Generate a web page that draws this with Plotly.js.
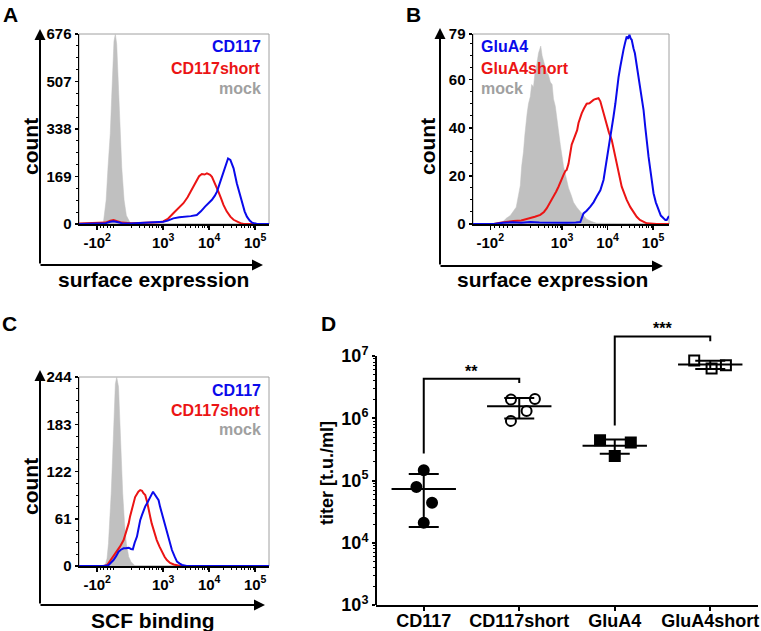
<!DOCTYPE html>
<html><head><meta charset="utf-8">
<script src="https://cdn.plot.ly/plotly-3.0.1.min.js"></script>
<style>html,body{margin:0;padding:0;background:#fff}</style>
</head><body><div id="chart" style="width:761px;height:631px"></div>
<script>
// ---------- Panel A (x in display decades of the biexponential axis) ----------
const mockA_x = [1.17,1.65,1.70,1.73,1.76,1.80,1.85,1.88,1.90,1.93,1.96,1.99,2.01,2.04,2.07,2.10,2.15,2.20,2.28,2.35,5.30];
const mockA_y = [0,0,5,40,85,200,323,450,560,650,676,640,560,440,323,200,85,30,5,0,0];
const cd117A_x = [1.17,1.5,1.75,1.85,1.92,2.0,2.1,2.3,2.5,2.7,2.9,3.0,3.1,3.22,3.35,3.5,3.6,3.73,3.82,3.91,3.98,4.06,4.12,4.17,4.22,4.28,4.35,4.41,4.46,4.53,4.60,4.66,4.71,4.77,4.82,4.88,4.93,5.04,5.30];
const cd117A_y = [0,1,3,8,10,7,3,2,3,4,5,8,12,20,24,26,28,32,45,62,72,86,100,115,140,169,205,233,228,198,145,110,74,45,26,12,5,0,0];
const cd117sA_x = [1.17,1.5,1.75,1.85,1.92,2.0,2.1,2.3,2.5,2.6,2.75,2.9,3.0,3.1,3.22,3.33,3.44,3.53,3.62,3.68,3.73,3.78,3.84,3.90,3.95,4.02,4.06,4.09,4.15,4.20,4.26,4.31,4.38,4.46,4.53,4.60,4.68,4.75,5.30];
const cd117sA_y = [2,3,5,12,14,10,5,3,4,3,5,6,9,18,38,55,74,95,121,140,157,170,178,176,180,175,168,157,138,115,90,68,45,26,15,8,3,0,0];

// ---------- Panel B ----------
const mockB_x = [1.04,1.56,1.70,1.78,1.86,1.93,1.99,2.04,2.08,2.11,2.15,2.18,2.20,2.23,2.26,2.30,2.33,2.37,2.41,2.44,2.48,2.51,2.53,2.56,2.59,2.63,2.66,2.70,2.74,2.78,2.81,2.85,2.88,2.92,2.96,3.00,3.03,3.08,3.14,3.20,3.25,3.32,3.40,3.48,3.54,3.65,3.76,5.35];
const mockB_y = [0,0.3,1,2.5,3.5,5.5,7,12,16,24,30,37,42,46,50,53,58,57,64,66,71,73,74,70,68,66,63,62,59,58,52,49,44,38,33,28,24,20,15,12,9,7,5,3,2,1,0.3,0];
const gluA4sB_x = [1.04,1.5,1.64,1.80,1.93,2.10,2.30,2.40,2.52,2.60,2.66,2.74,2.81,2.87,2.92,2.97,3.03,3.07,3.10,3.14,3.18,3.21,3.25,3.29,3.33,3.36,3.40,3.43,3.48,3.54,3.60,3.65,3.69,3.74,3.80,3.84,3.87,3.92,3.98,4.03,4.09,4.15,4.20,4.26,4.31,4.37,4.42,4.50,4.57,4.64,4.71,4.79,4.86,5.08,5.35];
const gluA4sB_y = [0,0,0.5,1,1.2,1.5,2.4,3,3.8,5,6.5,9,11.4,13.5,15.5,18,20.4,22,22.5,25,29.4,33,35,37,39,42,44.7,46,48,50,50.2,51,51.6,52,52.3,51,48.9,45,40.5,38,35,30,25.3,21,15.5,12.5,10,7,5.1,3,1.7,0.8,0.3,0,0];
const gluA4B_x = [1.04,1.5,1.7,1.9,2.1,2.3,2.5,2.7,2.9,3.1,3.3,3.4,3.47,3.54,3.62,3.69,3.76,3.84,3.91,3.96,4.02,4.07,4.13,4.17,4.20,4.24,4.28,4.31,4.35,4.38,4.42,4.45,4.48,4.51,4.53,4.57,4.60,4.64,4.68,4.73,4.79,4.83,4.86,4.90,4.93,4.97,5.01,5.06,5.12,5.17,5.23,5.27,5.30,5.35];
const gluA4B_y = [0,0,0.5,0.7,0.5,0.8,0.6,0.5,0.6,0.5,0.6,0.8,4.4,5.5,7.2,9,11.4,14,18.3,24,30.8,37,44.7,50,55.8,61,65.5,69,72.5,75,78,77,78.7,77,76.6,73,71,66,61.3,55,47.5,40,33.6,28,23.9,18,12.8,9,5.8,3.5,2.4,1.7,1.7,3.3];

// ---------- Panel C ----------
const mockC_x = [1.17,1.70,1.74,1.78,1.81,1.84,1.87,1.90,1.92,1.94,1.96,1.99,2.03,2.05,2.07,2.10,2.12,2.16,2.20,2.25,2.30,2.39,5.30];
const mockC_y = [0,0,1,10,29,60,94,140,167,205,235,244,231,200,167,125,94,55,29,12,5.6,0,0];
const cd117sC_x = [1.17,1.7,1.78,1.84,1.88,1.94,1.99,2.06,2.14,2.20,2.25,2.28,2.32,2.36,2.39,2.43,2.46,2.50,2.54,2.57,2.61,2.65,2.68,2.72,2.75,2.80,2.86,2.92,2.97,3.03,3.08,3.15,3.23,3.37,5.30];
const cd117sC_y = [0,0,1,6,10,14,18.5,25,33.5,44,55,64,74,82,89,93,96,98,97,94,91.5,83,72,63,55,44,33.5,25,18.5,12,7.7,4,2,0,0];
const cd117C_x = [1.17,1.7,1.81,1.87,1.92,1.98,2.03,2.08,2.14,2.19,2.25,2.30,2.34,2.38,2.43,2.47,2.50,2.54,2.57,2.61,2.65,2.68,2.72,2.75,2.78,2.80,2.83,2.86,2.90,2.93,2.97,3.00,3.04,3.08,3.12,3.16,3.19,3.25,3.30,3.36,3.41,3.51,5.30];
const cd117C_y = [0,0,1,4,7.7,13,18.5,21,22.8,23,23.6,22,21.5,30,38,50,59,66,72,77,81,85,89,93,96,94,91.5,90,85,77,68,60,51,42,33.5,27,20.6,12,5.6,3,1.3,0,0];

// ---------- Panel D ----------
const categories = ['CD117','CD117short','GluA4','GluA4short'];
const titerCD117 = [1.47e5, 7.9e4, 4.4e4, 2.1e4];
const jitterCD117 = [0, -0.077, 0.087, 0];
const titerCD117short = [2.0e6, 2.05e6, 1.31e6, 9.1e5];
const jitterCD117short = [-0.087, 0.164, 0.077, -0.087];
const titerGluA4 = [4.44e5, 4.08e5, 2.49e5];
const jitterGluA4 = [-0.154, 0.168, 0];
const titerGluA4short = [8.5e6, 6.3e6, 7.1e6];
const jitterGluA4short = [-0.168, 0.014, 0.164];
const titerMean = [7.3e4, 1.56e6, 3.64e5, 7.3e6];
const titerSD = [5.5e4, 5.7e5, 9.5e4, 1.1e6];
const bracket1_y = [2.71e5, 4.33e6, 4.33e6, 3.69e6];
const bracket2_y = [7.7e5, 2.07e7, 2.07e7, 1.74e7];
const sigLabels = ['**', '***'];

// ---------- helpers ----------
const W = 761, H = 631;
const px = x => x / W;
const py = y => 1 - y / H;
const F = 'Liberation Sans, Arial, sans-serif';
const BLUE = 'rgb(10,10,235)', RED = 'rgb(235,20,20)', GRAYF = 'rgb(192,192,192)', GRAYT = 'rgb(160,160,160)';

function histTraces(xa, ya, mx, my, rx, ry, bx, by) {
  return [
    {x: mx, y: my, xaxis: xa, yaxis: ya, type: 'scatter', mode: 'lines', fill: 'tozeroy',
     fillcolor: GRAYF, line: {color: GRAYF, width: 0.5}, hoverinfo: 'skip'},
    {x: rx, y: ry, xaxis: xa, yaxis: ya, type: 'scatter', mode: 'lines', line: {color: RED, width: 2}},
    {x: bx, y: by, xaxis: xa, yaxis: ya, type: 'scatter', mode: 'lines', line: {color: BLUE, width: 2}}
  ];
}

function minorHist(negPos) {
  const v = [];
  for (let i = 1; i <= 5; i++) v.push(negPos + (2 - negPos) * i / 6);
  for (let k = 2; k <= 4; k++) for (let m = 2; m <= 9; m++) v.push(k + Math.log10(m));
  return v;
}

function histX(domain, range, negPos) {
  return {
    domain: domain, range: range, showline: true, linecolor: 'black', linewidth: 1.5,
    ticks: 'outside', ticklen: 4, tickwidth: 1.5, tickcolor: 'black',
    tickmode: 'array', tickvals: [negPos, 3, 4, 5],
    ticktext: ['-10<sup>2</sup>', '10<sup>3</sup>', '10<sup>4</sup>', '10<sup>5</sup>'],
    tickfont: {family: F, size: 15, color: 'black', weight: 'bold'},
    showgrid: false, zeroline: false, fixedrange: true,
    minor: {tickvals: minorHist(negPos), ticks: 'outside', ticklen: 2.5, tickwidth: 1, tickcolor: 'black', showgrid: false}
  };
}
function histY(domain, max, vals, minorD) {
  return {
    domain: domain, range: [0, max], showline: true, linecolor: 'black', linewidth: 1.5,
    ticks: 'outside', ticklen: 3, tickwidth: 1.5, tickcolor: 'black',
    tickmode: 'array', tickvals: vals, ticktext: vals.map(String),
    tickfont: {family: F, size: 15, color: 'black', weight: 'bold'},
    showgrid: false, zeroline: false, fixedrange: true,
    minor: {dtick: minorD, tick0: 0, ticks: 'outside', ticklen: 2, tickwidth: 1, tickcolor: 'black', showgrid: false}
  };
}

const traces = [];
traces.push(...histTraces('x', 'y', mockA_x, mockA_y, cd117sA_x, cd117sA_y, cd117A_x, cd117A_y));
traces.push(...histTraces('x2', 'y2', mockB_x, mockB_y, gluA4sB_x, gluA4sB_y, gluA4B_x, gluA4B_y));
traces.push(...histTraces('x3', 'y3', mockC_x, mockC_y, cd117sC_x, cd117sC_y, cd117C_x, cd117C_y));

// Panel D points
const groups = [
  {vals: titerCD117, jit: jitterCD117, sym: 'circle', idx: 0},
  {vals: titerCD117short, jit: jitterCD117short, sym: 'circle-open', idx: 1},
  {vals: titerGluA4, jit: jitterGluA4, sym: 'square', idx: 2},
  {vals: titerGluA4short, jit: jitterGluA4short, sym: 'square-open', idx: 3}
];
groups.forEach(g => {
  traces.push({
    x: g.vals.map((v, j) => g.idx + g.jit[j]), y: g.vals, xaxis: 'x4', yaxis: 'y4',
    type: 'scatter', mode: 'markers',
    marker: {symbol: g.sym, size: 10, color: 'black', line: {color: 'black', width: 2}}
  });
});
traces.push({
  x: categories.map((c, i) => i), y: titerMean, xaxis: 'x4', yaxis: 'y4', type: 'scatter', mode: 'markers',
  marker: {symbol: 'line-ew', size: 46, color: 'black', line: {color: 'black', width: 2}},
  error_y: {type: 'data', array: titerSD, visible: true, color: 'black', thickness: 2, width: 15}
});
traces.push({x: [0, 0, 1, 1], y: bracket1_y, xaxis: 'x4', yaxis: 'y4', type: 'scatter', mode: 'lines',
  line: {color: 'black', width: 2}});
traces.push({x: [2, 2, 3, 3], y: bracket2_y, xaxis: 'x4', yaxis: 'y4', type: 'scatter', mode: 'lines',
  line: {color: 'black', width: 2}});

const dMinor = [];
for (let k = 3; k <= 6; k++) for (let m = 2; m <= 9; m++) dMinor.push(m * Math.pow(10, k));

const layout = {
  width: W, height: H, margin: {l: 0, r: 0, t: 0, b: 0},
  paper_bgcolor: 'white', plot_bgcolor: 'white', showlegend: false,
  font: {family: F, color: 'black'},
  xaxis: Object.assign(histX([px(79), px(269)], [1.17, 5.30], 1.565), {anchor: 'y'}),
  yaxis: Object.assign(histY([py(224), py(34)], 676, [0, 169, 338, 507, 676], 42.25), {anchor: 'x'}),
  xaxis2: Object.assign(histX([px(473), px(669)], [1.04, 5.35], 1.42), {anchor: 'y2'}),
  yaxis2: Object.assign(histY([py(224), py(34)], 79, [0, 20, 40, 60, 79], 5), {anchor: 'x2'}),
  xaxis3: Object.assign(histX([px(79), px(269)], [1.17, 5.30], 1.565), {anchor: 'y3'}),
  yaxis3: Object.assign(histY([py(566), py(377)], 244, [0, 61, 122, 183, 244], 15.25), {anchor: 'x3'}),
  xaxis4: {
    anchor: 'y4', domain: [px(376), px(758)], range: [-0.5, 3.5],
    showline: true, linecolor: 'black', linewidth: 2, ticks: 'outside', ticklen: 4, tickwidth: 2, tickcolor: 'black',
    tickmode: 'array', tickvals: categories.map((c, i) => i), ticktext: categories,
    tickfont: {family: F, size: 18, color: 'black', weight: 'bold'}, ticklabelstandoff: -6,
    showgrid: false, zeroline: false, fixedrange: true
  },
  yaxis4: {
    anchor: 'x4', domain: [py(605), py(325)], type: 'log', range: [3, 7.5],
    showline: false, ticks: 'outside', ticklen: 3, tickwidth: 2, tickcolor: 'black',
    tickmode: 'array', tickvals: [1e3, 1e4, 1e5, 1e6, 1e7],
    ticktext: ['10<sup>3</sup>', '10<sup>4</sup>', '10<sup>5</sup>', '10<sup>6</sup>', '10<sup>7</sup>'],
    tickfont: {family: F, size: 18, color: 'black', weight: 'bold'},
    showgrid: false, zeroline: false, fixedrange: true,
    minor: {tickvals: dMinor, ticks: 'outside', ticklen: 2, tickwidth: 1, tickcolor: 'black', showgrid: false}
  },
  shapes: [
    {type: 'rect', xref: 'x domain', yref: 'y domain', x0: 0, x1: 1, y0: 0, y1: 1, line: {color: GRAYT, width: 1}, layer: 'below'},
    {type: 'rect', xref: 'x2 domain', yref: 'y2 domain', x0: 0, x1: 1, y0: 0, y1: 1, line: {color: GRAYT, width: 1}, layer: 'below'},
    {type: 'rect', xref: 'x3 domain', yref: 'y3 domain', x0: 0, x1: 1, y0: 0, y1: 1, line: {color: GRAYT, width: 1}, layer: 'below'},
    {type: 'line', xref: 'x4 domain', yref: 'y4 domain', x0: 0, x1: 0, y0: 0, y1: 4 / 4.5, line: {color: 'black', width: 2}}
  ],
  annotations: []
};

// significance stars, anchored on the bracket tops (log axis -> log10 position)
[[0.5, bracket1_y[1]], [2.5, bracket2_y[1]]].forEach((p, i) => {
  layout.annotations.push({
    xref: 'x4', yref: 'y4', x: p[0], y: Math.log10(p[1]), text: sigLabels[i], showarrow: false,
    xanchor: 'center', yanchor: 'bottom', yshift: -3,
    font: {family: F, size: 16, color: 'black', weight: 'bold'}
  });
});

function txt(x, y, t, size, opts) {
  layout.annotations.push(Object.assign({
    xref: 'paper', yref: 'paper', x: px(x), y: py(y), text: t, showarrow: false,
    xanchor: 'center', yanchor: 'middle', borderpad: 0,
    font: {family: F, size: size, color: 'black', weight: 'bold'}
  }, opts || {}));
}
function arrow(hx, hy, tx, ty) {
  layout.annotations.push({
    xref: 'paper', yref: 'paper', x: px(hx), y: py(hy), ax: tx - hx, ay: ty - hy, text: '',
    showarrow: true, arrowhead: 2, arrowsize: 1.1, arrowwidth: 2, arrowcolor: 'black', standoff: 0, startstandoff: 0
  });
}

// panel letters
txt(10, 14, 'A', 21); txt(413, 14, 'B', 21); txt(9, 324, 'C', 21); txt(328, 324, 'D', 21);
// outer arrow frames
arrow(40, 29, 40, 265); arrow(263, 265, 39, 265);
arrow(440, 28, 440, 266); arrow(663, 266, 439, 266);
arrow(40, 370, 40, 605); arrow(265, 605, 39, 605);
// axis titles
txt(30, 147, 'count', 21, {textangle: -90});
txt(153, 279, 'surface expression', 21);
txt(427, 147, 'count', 21, {textangle: -90});
txt(552, 279, 'surface expression', 21);
txt(30, 487, 'count', 21, {textangle: -90});
txt(153, 620, 'SCF binding', 21);
txt(327, 473, 'titer [t.u./ml]', 18, {textangle: -90});
// legends
function leg(x, y, t, c, anchor) {
  txt(x, y, t, 16, {xanchor: anchor, font: {family: F, size: 16, color: c, weight: 'bold'}});
}
leg(262, 47, 'CD117', BLUE, 'right'); leg(262, 68, 'CD117short', RED, 'right'); leg(262, 89, 'mock', GRAYT, 'right');
leg(480, 47, 'GluA4', BLUE, 'left'); leg(480, 68, 'GluA4short', RED, 'left'); leg(480, 89, 'mock', GRAYT, 'left');
leg(262, 390, 'CD117', BLUE, 'right'); leg(262, 410, 'CD117short', RED, 'right'); leg(262, 430, 'mock', GRAYT, 'right');

Plotly.newPlot('chart', traces, layout, {displayModeBar: false, staticPlot: true});
</script></body></html>
